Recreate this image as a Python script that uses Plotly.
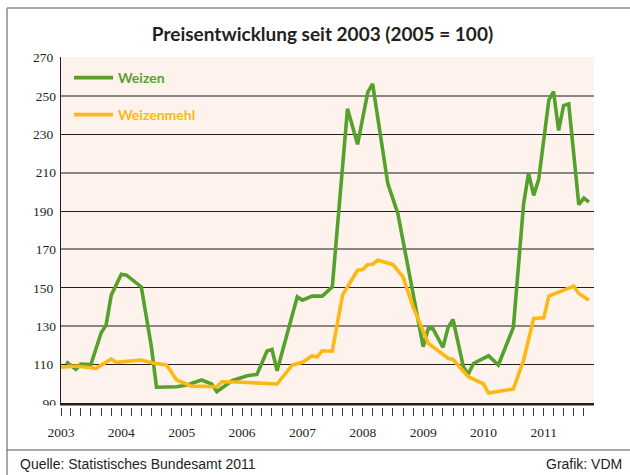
import plotly.graph_objects as go

# ---- data ----
weizen_dates = ["2003-02", "2003-04", "2003-05", "2003-07", "2003-09", "2003-10", "2003-11",
                "2004-01", "2004-02", "2004-04", "2004-05", "2004-07", "2004-08", "2004-12",
                "2005-02", "2005-05", "2005-07", "2005-08", "2005-10", "2005-11",
                "2006-02", "2006-04", "2006-06", "2006-07", "2006-08", "2006-10", "2006-12",
                "2007-01", "2007-03", "2007-05", "2007-07", "2007-10", "2007-12",
                "2008-02", "2008-03", "2008-06", "2008-08",
                "2009-01", "2009-02", "2009-03", "2009-05", "2009-06", "2009-07", "2009-09",
                "2009-10", "2009-11", "2010-02", "2010-04", "2010-07", "2010-09", "2010-10",
                "2010-11", "2010-12", "2011-02", "2011-03", "2011-04", "2011-05", "2011-06",
                "2011-08", "2011-09", "2011-10"]
weizen_values = [111.5, 107.5, 110.3, 110.1, 126.6, 130.6, 146.2,
                 157.1, 156.6, 152.3, 150.5, 119.3, 98.2, 98.5,
                 99.4, 102.0, 99.9, 95.9, 99.9, 101.6,
                 104.2, 104.9, 117.1, 117.9, 106.8, 125.4, 145.3,
                 143.6, 145.7, 145.7, 150.5, 243.3, 224.8,
                 252.0, 256.3, 204.3, 188.7,
                 119.3, 128.9, 128.7, 119.0, 129.4, 133.5, 108.9,
                 105.0, 110.6, 114.6, 109.8, 129.4, 193.9, 209.8,
                 198.2, 206.4, 248.0, 252.3, 232.0, 245.0, 245.9,
                 193.4, 196.8, 194.7]

mehl_dates = ["2003-01", "2003-04", "2003-08", "2003-11", "2003-12", "2004-05", "2004-07",
              "2004-10", "2004-12", "2005-03", "2005-08", "2005-09", "2006-01", "2006-08",
              "2006-11", "2007-01", "2007-03", "2007-04", "2007-05", "2007-07", "2007-09",
              "2007-12", "2008-01", "2008-02", "2008-03", "2008-04", "2008-07", "2008-09",
              "2008-11", "2009-02", "2009-06", "2009-07", "2009-10", "2010-01", "2010-02",
              "2010-07", "2010-09", "2010-11", "2011-01", "2011-02", "2011-07", "2011-08",
              "2011-10"]
mehl_values = [108.6, 109.3, 108.1, 112.9, 111.2, 112.4, 111.0,
               109.8, 102.0, 98.8, 98.5, 101.1, 100.8, 99.9,
               109.8, 111.2, 114.5, 114.1, 117.2, 117.0, 146.2,
               159.2, 159.6, 162.2, 162.3, 164.4, 162.2, 155.7,
               140.1, 121.1, 113.3, 112.7, 103.7, 99.9, 95.2,
               97.3, 112.4, 134.1, 134.4, 145.7, 150.9, 147.1,
               143.6]

years = list(range(2003, 2012))
y_ticks_dark = [110, 150, 190, 230, 270]
y_ticks_grey = [90, 130, 170, 210, 250]

GREEN = "#56a02c"
YELLOW = "#fdb813"
INK = "#231f20"
GREY = "#8a8582"

# x ticks every two months, labelled at January
tick_vals, tick_text = [], []
for yr in years:
    for mo in range(1, 13, 2):
        if yr == 2011 and mo > 9:
            break
        tick_vals.append(f"{yr}-{mo:02d}-01")
        tick_text.append(str(yr) if mo == 1 else "")

fig = go.Figure()
fig.add_trace(go.Scatter(x=weizen_dates, y=weizen_values, mode="lines",
                         name="<b>Weizen</b>", legend="legend", yaxis="y",
                         line=dict(color=GREEN, width=3.6)))
fig.add_trace(go.Scatter(x=mehl_dates, y=mehl_values, mode="lines",
                         name="<b>Weizenmehl</b>", legend="legend2", yaxis="y2",
                         line=dict(color=YELLOW, width=3.6)))

W, H = 630, 475
L, R, T, B = 61, 36, 57, 72
pw, ph = W - L - R, H - T - B


def px_x(x):
    return (x - L) / pw


def px_y(y):
    return (H - B - y) / ph


YRANGE = [90, 270.3]
SERIF = "Liberation Serif, DejaVu Serif, serif"
SANS_T = "Lato, Open Sans, sans-serif"
SANS_F = "Liberation Sans, Arial, sans-serif"

fig.update_layout(
    width=W, height=H,
    margin=dict(l=L, r=R, t=T, b=B),
    paper_bgcolor="white",
    plot_bgcolor="#fdf3ec",
    showlegend=True,
    title=dict(text="<b>Preisentwicklung seit 2003 (2005 = 100)</b>",
               x=322.5 / W, xref="container", xanchor="center",
               y=1 - 34 / H, yref="container", yanchor="middle",
               font=dict(family=SANS_T, size=19, color=INK)),
    xaxis=dict(type="date", range=["2003-01-01", "2011-11-01"],
               tickvals=tick_vals, ticktext=tick_text,
               ticks="outside", ticklen=10, tickwidth=1, tickcolor="#3a3a3a",
               showline=True, linecolor=INK, linewidth=2.5,
               showgrid=False, zeroline=False, ticklabelstandoff=5,
               tickfont=dict(family=SERIF, size=13.5, color=INK)),
    yaxis=dict(range=YRANGE, tickvals=y_ticks_dark,
               showgrid=True, gridcolor=INK, gridwidth=1.3,
               showline=True, linecolor=INK, linewidth=1,
               zeroline=False, ticks="", ticklabelstandoff=4,
               tickfont=dict(family=SERIF, size=13.5, color=INK)),
    yaxis2=dict(range=YRANGE, tickvals=y_ticks_grey, overlaying="y", side="left",
                showgrid=True, gridcolor=GREY, gridwidth=2,
                zeroline=False, ticks="", ticklabelstandoff=4, showline=False,
                tickfont=dict(family=SERIF, size=13.5, color=INK)),
    legend=dict(x=px_x(69), y=px_y(78), xanchor="left", yanchor="middle",
                bgcolor="rgba(0,0,0,0)", itemwidth=39,
                font=dict(family=SANS_T, size=14, color=GREEN)),
    legend2=dict(x=px_x(69), y=px_y(115), xanchor="left", yanchor="middle",
                 bgcolor="rgba(0,0,0,0)", itemwidth=39,
                 font=dict(family=SANS_T, size=14, color=YELLOW)),
    annotations=[
        dict(text="Quelle: Statistisches Bundesamt 2011", xref="paper", yref="paper",
             x=px_x(18), y=px_y(464), xanchor="left", yanchor="middle", showarrow=False,
             font=dict(family=SANS_F, size=14, color=INK)),
        dict(text="Grafik: VDM", xref="paper", yref="paper",
             x=px_x(624), y=px_y(464), xanchor="right", yanchor="middle", showarrow=False,
             font=dict(family=SANS_F, size=14, color=INK)),
    ],
    shapes=[
        # gap between axis line and tick marks
        dict(type="rect", xref="paper", yref="paper", x0=px_x(40), x1=px_x(610),
             y0=px_y(405.6), y1=px_y(408), fillcolor="white", line=dict(width=0), layer="above"),
        # outer frame
        dict(type="line", xref="paper", yref="paper", x0=px_x(7), x1=px_x(632),
             y0=px_y(8), y1=px_y(8), line=dict(color="#8c8c8c", width=1.5)),
        dict(type="line", xref="paper", yref="paper", x0=px_x(7), x1=px_x(7),
             y0=px_y(8), y1=px_y(478), line=dict(color="#8c8c8c", width=1.5)),
        dict(type="line", xref="paper", yref="paper", x0=px_x(7), x1=px_x(632),
             y0=px_y(450), y1=px_y(450), line=dict(color="#555555", width=1.2)),
    ],
)

fig.write_html("out.html", config={"displayModeBar": False},
               post_script="document.body.style.margin='0px';")
